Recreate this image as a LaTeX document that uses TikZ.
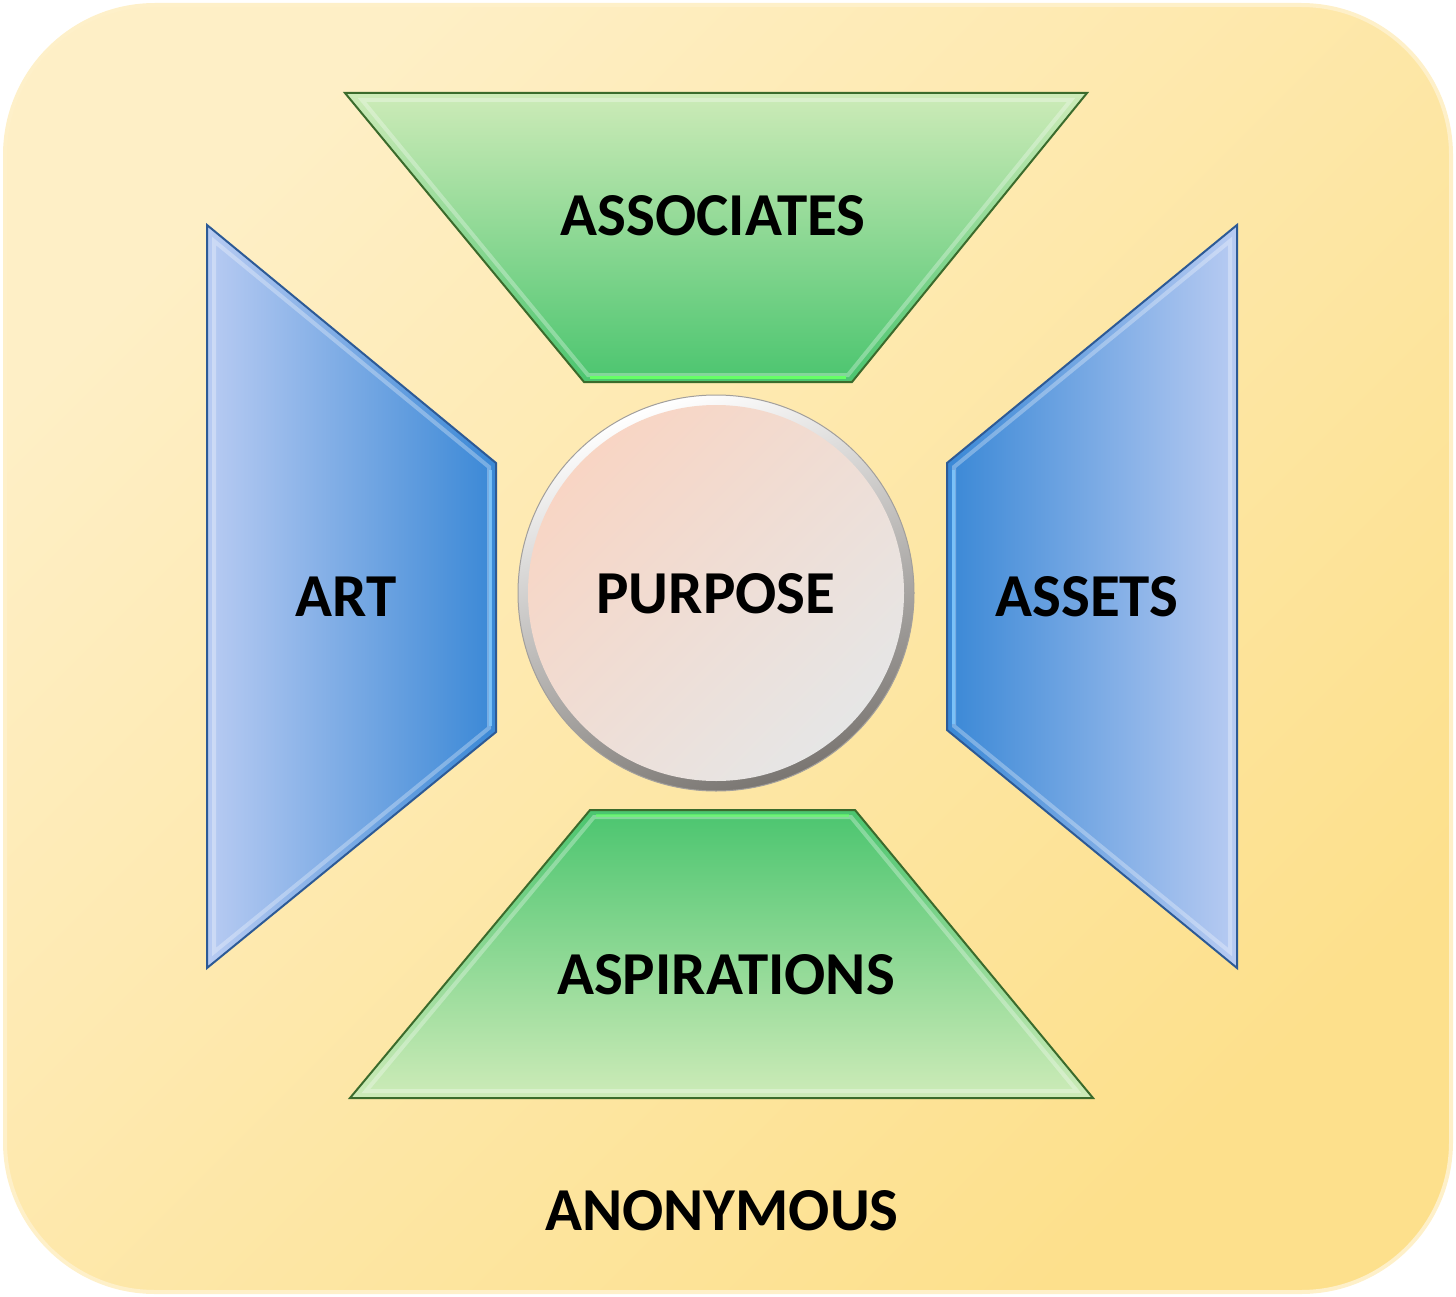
\documentclass[tikz,border=0pt]{standalone}
\usepackage{fontspec}
\setmainfont{Carlito}
\definecolor{bgA}{HTML}{FEEFC6}
\definecolor{bgB}{HTML}{FDE08C}
\definecolor{bgLine}{HTML}{FEF0C9}
\definecolor{grL}{HTML}{CDEBB8}
\definecolor{grD}{HTML}{4BC56F}
\definecolor{grLine}{HTML}{3B6B2C}
\definecolor{blL}{HTML}{B8CBF2}
\definecolor{blD}{HTML}{3A88D6}
\definecolor{blLine}{HTML}{2D5A96}
\definecolor{blHi}{HTML}{7CC4FA}
\definecolor{ciA}{HTML}{F8D5C4}
\definecolor{ciB}{HTML}{E6E6E6}
\definecolor{ciRim}{HTML}{7A7672}
\begin{document}
\begin{tikzpicture}[x=1pt,y=-1pt,
  lbl/.style={font=\fontsize{61}{63}\selectfont\bfseries, text=black, inner sep=0pt},
  outerg/.style={draw=grLine, line width=2pt, line join=miter},
  outerb/.style={draw=blLine, line width=2pt, line join=miter},
  bevel/.style={draw=white, draw opacity=0.3, line width=4pt, line join=miter}]
\useasboundingbox (0,0) rectangle (1456,1297);
% background
\shade[top color=bgA, bottom color=bgB, shading angle=45, rounded corners=150pt]
  (5,5) rectangle (1451,1292);
\draw[bgLine, line width=4pt, rounded corners=150pt] (5,5) rectangle (1451,1292);
% top trapezoid
\shade[top color=grL, bottom color=grD] (345,93) -- (1087,93) -- (852,382) -- (584,382) -- cycle;
\draw[outerg] (345,93) -- (1087,93) -- (852,382) -- (584,382) -- cycle;
\draw[bevel] (362,100) -- (1071,100) -- (848,375) -- (588,375) -- cycle;
\draw[draw=green!60!white, line width=3pt] (590,377) -- (846,377);
% bottom trapezoid
\shade[top color=grD, bottom color=grL] (590,810) -- (855,810) -- (1093,1098) -- (350,1098) -- cycle;
\draw[outerg] (590,810) -- (855,810) -- (1093,1098) -- (350,1098) -- cycle;
\draw[bevel] (594,817) -- (851,817) -- (1077,1091) -- (366,1091) -- cycle;
\draw[draw=green!60!white, line width=3pt, draw opacity=0.6] (596,815) -- (849,815);
% left trapezoid
\shade[left color=blL, right color=blD] (207,225) -- (496,463) -- (496,732) -- (207,968) -- cycle;
\draw[outerb] (207,225) -- (496,463) -- (496,732) -- (207,968) -- cycle;
\draw[bevel] (214,241) -- (489,467) -- (489,728) -- (214,952) -- cycle;
\draw[draw=blHi, line width=3pt, draw opacity=0.9] (490,470) -- (490,726);
% right trapezoid
\shade[left color=blD, right color=blL] (947,463) -- (1237,225) -- (1237,968) -- (947,730) -- cycle;
\draw[outerb] (947,463) -- (1237,225) -- (1237,968) -- (947,730) -- cycle;
\draw[bevel] (954,467) -- (1230,241) -- (1230,952) -- (954,726) -- cycle;
\draw[draw=blHi, line width=3pt, draw opacity=0.9] (953,470) -- (953,724);
% circle
\shade[top color=white, bottom color=ciRim, shading angle=20] (716,593) circle (198);
\shade[top color=ciA, bottom color=ciB, shading angle=45] (716,593) circle (188);
\draw[ciRim!70, line width=1pt] (716,593) circle (198);
% labels
\node[lbl] (associates) at (713,216) {ASSOCIATES};
\node[lbl] (art) at (346,597) {ART};
\node[lbl] (purpose) at (716,594) {PURPOSE};
\node[lbl] (assets) at (1087,597) {ASSETS};
\node[lbl] (aspirations) at (726,975) {ASPIRATIONS};
\node[lbl] (anonymous) at (722,1211) {ANONYMOUS};
\end{tikzpicture}
\end{document}
